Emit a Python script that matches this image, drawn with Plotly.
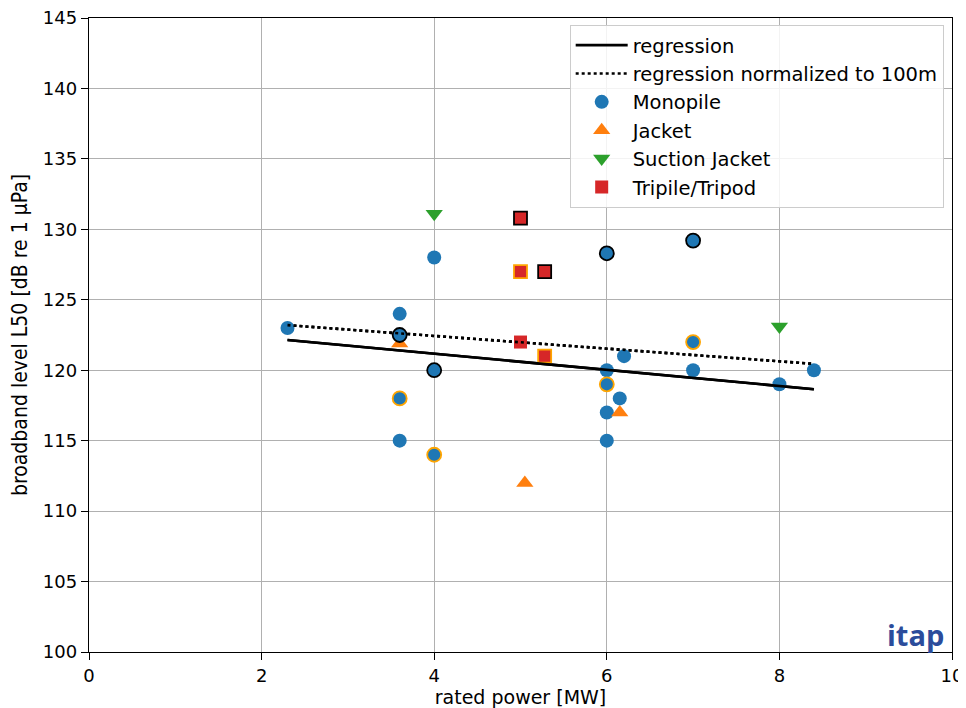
import plotly.graph_objects as go

# ---- data ----
mono_x = [2.3, 3.6, 3.6, 4.0, 6.0, 6.2, 6.15, 6.0, 6.0, 7.0, 8.0, 8.4]
mono_y = [123.0, 124.0, 115.0, 128.0, 120.0, 121.0, 118.0, 117.0, 115.0, 120.0, 119.0, 120.0]
mono_black_x = [3.6, 4.0, 6.0, 7.0]
mono_black_y = [122.5, 120.0, 128.3, 129.2]
mono_orange_x = [3.6, 4.0, 6.0, 7.0]
mono_orange_y = [118.0, 114.0, 119.0, 122.0]

jacket_x = [3.6, 5.05, 6.15]
jacket_y = [121.9, 112.0, 117.0]

suction_x = [4.0, 8.0]
suction_y = [131.1, 123.1]

tri_x = [5.0]
tri_y = [122.0]
tri_black_x = [5.0, 5.28]
tri_black_y = [130.8, 127.0]
tri_orange_x = [5.0, 5.28]
tri_orange_y = [127.0, 121.0]

reg_x = [2.3, 8.4]
reg_y = [122.15, 118.65]
reg100_x = [2.3, 8.4]
reg100_y = [123.2, 120.45]

x_ticks = [0, 2, 4, 6, 8, 10]
y_ticks = [100, 105, 110, 115, 120, 125, 130, 135, 140, 145]

BLUE = "#1f77b4"
ORANGE = "#ff7f0e"
GREEN = "#2ca02c"
RED = "#d62728"
EDGE_OR = "#ffa500"

fig = go.Figure()

def mk(symbol, color, size, edge=None, ew=0):
    d = dict(symbol=symbol, color=color, size=size)
    if edge:
        d["line"] = dict(color=edge, width=ew)
    else:
        d["line"] = dict(width=0)
    return d

fig.add_trace(go.Scatter(x=reg_x, y=reg_y, mode="lines", name="regression",
                         line=dict(color="black", width=2.6), legendrank=1))
fig.add_trace(go.Scatter(x=reg100_x, y=reg100_y, mode="lines",
                         name="regression normalized to 100m",
                         line=dict(color="black", width=2.6, dash="dot"), legendrank=2))

fig.add_trace(go.Scatter(x=mono_x, y=mono_y, mode="markers", name="Monopile",
                         marker=mk("circle", BLUE, 14), legendrank=3))
fig.add_trace(go.Scatter(x=jacket_x, y=jacket_y, mode="markers", name="Jacket",
                         marker=mk("triangle-up", ORANGE, 15), legendrank=4))
fig.add_trace(go.Scatter(x=mono_black_x, y=mono_black_y, mode="markers", showlegend=False,
                         marker=mk("circle", BLUE, 14, "black", 1.8)))
fig.add_trace(go.Scatter(x=mono_orange_x, y=mono_orange_y, mode="markers", showlegend=False,
                         marker=mk("circle", BLUE, 14, EDGE_OR, 1.8)))
fig.add_trace(go.Scatter(x=suction_x, y=suction_y, mode="markers", name="Suction Jacket",
                         marker=mk("triangle-down", GREEN, 15), legendrank=5))
fig.add_trace(go.Scatter(x=tri_x, y=tri_y, mode="markers", name="Tripile/Tripod",
                         marker=mk("square", RED, 13), legendrank=6))
fig.add_trace(go.Scatter(x=tri_black_x, y=tri_black_y, mode="markers", showlegend=False,
                         marker=mk("square", RED, 13, "black", 1.8)))
fig.add_trace(go.Scatter(x=tri_orange_x, y=tri_orange_y, mode="markers", showlegend=False,
                         marker=mk("square", RED, 13, EDGE_OR, 1.8)))

fig.add_trace(go.Scatter(x=reg_x, y=reg_y, mode="lines", showlegend=False,
                         line=dict(color="black", width=2.6), hoverinfo="skip"))
fig.add_trace(go.Scatter(x=reg100_x, y=reg100_y, mode="lines", showlegend=False,
                         line=dict(color="black", width=2.6, dash="dot"), hoverinfo="skip"))

axis_common = dict(
    showline=True, linecolor="black", linewidth=1.4, mirror=True,
    ticks="outside", ticklen=7, tickcolor="black", tickwidth=1.4,
    showgrid=True, gridcolor="#b0b0b0", gridwidth=1.4, zeroline=False,
    automargin=False, ticklabeloverflow="allow",
    tickfont=dict(family="DejaVu Sans", size=18, color="black"),
)

fig.update_layout(
    width=966, height=708,
    margin=dict(l=81, r=22, t=10, b=64),
    paper_bgcolor="white", plot_bgcolor="white",
    xaxis=dict(range=[0, 10], tickvals=x_ticks, **axis_common,
               title=dict(text="rated power [MW]", standoff=4,
                          font=dict(family="DejaVu Sans", size=19, color="black"))),
    yaxis=dict(range=[100, 145], tickvals=y_ticks, **axis_common,
               title=dict(text="broadband level L50 [dB re 1 µPa]", standoff=9,
                          font=dict(family="DejaVu Sans Condensed, DejaVu Sans", size=21,
                                    color="black"))),
    legend=dict(x=0.557, y=0.989, xanchor="left", yanchor="top",
                bgcolor="rgba(255,255,255,0.85)", bordercolor="#cccccc", borderwidth=1,
                font=dict(family="DejaVu Sans", size=19.5, color="black"),
                tracegroupgap=0, itemwidth=52),
    showlegend=True,
)

fig.add_annotation(x=1.0, y=0.0, xref="paper", yref="paper", xanchor="right", yanchor="bottom",
                   xshift=-6, yshift=-4,
                   text="<b>itap</b>", showarrow=False,
                   font=dict(family="Open Sans", size=29, color="#2b4c9b"))

fig.write_html("out.html")
